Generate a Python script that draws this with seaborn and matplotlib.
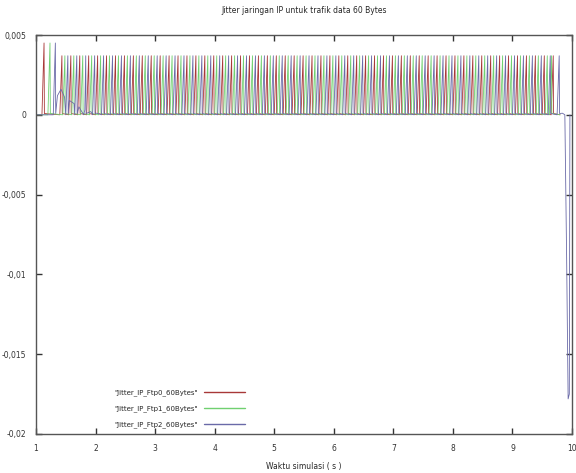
import matplotlib
matplotlib.use("Agg")
import matplotlib.pyplot as plt
import matplotlib.ticker as mticker
import numpy as np
import pandas as pd
import seaborn as sns

# ---- data ----
series_names = ['"Jitter_IP_Ftp0_60Bytes"', '"Jitter_IP_Ftp1_60Bytes"', '"Jitter_IP_Ftp2_60Bytes"']

# spike onset times (s) for each series
ftp0_spikes = [1.10, 1.40, 1.55, 1.70, 1.85, 2.00, 2.15, 2.30, 2.45, 2.60, 2.75, 2.90, 3.05, 3.20,
               3.35, 3.50, 3.65, 3.80, 3.95, 4.10, 4.25, 4.40, 4.55, 4.70, 4.85, 5.00, 5.15, 5.30,
               5.45, 5.60, 5.75, 5.90, 6.05, 6.20, 6.35, 6.50, 6.65, 6.80, 6.95, 7.10, 7.25, 7.40,
               7.55, 7.70, 7.85, 8.00, 8.15, 8.30, 8.45, 8.60, 8.75, 8.90, 9.05, 9.20, 9.35, 9.50, 9.65]
ftp1_spikes = [1.20, 1.45, 1.60, 1.75, 1.90, 2.05, 2.20, 2.35, 2.50, 2.65, 2.80, 2.95, 3.10, 3.25,
               3.40, 3.55, 3.70, 3.85, 4.00, 4.15, 4.30, 4.45, 4.60, 4.75, 4.90, 5.05, 5.20, 5.35,
               5.50, 5.65, 5.80, 5.95, 6.10, 6.25, 6.40, 6.55, 6.70, 6.85, 7.00, 7.15, 7.30, 7.45,
               7.60, 7.75, 7.90, 8.05, 8.20, 8.35, 8.50, 8.65, 8.80, 8.95, 9.10, 9.25, 9.40, 9.55, 9.62]
ftp2_spikes = [1.29, 1.50, 1.65, 1.80, 1.95, 2.10, 2.25, 2.40, 2.55, 2.70, 2.85, 3.00, 3.15, 3.30,
               3.45, 3.60, 3.75, 3.90, 4.05, 4.20, 4.35, 4.50, 4.65, 4.80, 4.95, 5.10, 5.25, 5.40,
               5.55, 5.70, 5.85, 6.00, 6.15, 6.30, 6.45, 6.60, 6.75, 6.90, 7.05, 7.20, 7.35, 7.50,
               7.65, 7.80, 7.95, 8.10, 8.25, 8.40, 8.55, 8.70, 8.85, 9.00, 9.15, 9.30, 9.45, 9.60, 9.75]

# spike peak values (first spike of each series is taller)
ftp0_peaks = [0.0045] + [0.0037] * 56
ftp1_peaks = [0.0045] + [0.0037] * 56
ftp2_peaks = [0.0045] + [0.0037] * 56

# early decaying jitter of Ftp2 and the final drop
ftp2_early_t = [1.36, 1.42, 1.48, 1.56, 1.64, 1.72, 1.82, 1.92, 2.02]
ftp2_early_v = [0.0012, 0.0016, 0.0011, 0.0009, 0.0007, 0.0005, 0.0003, 0.0002, 0.0001]
ftp2_end_t = [9.84, 9.88, 9.91, 9.935, 9.955, 9.965]
ftp2_end_v = [0.0001, 0.0, -0.009, -0.0178, -0.0175, 0.0]

rise = 0.035
fall = 0.006


def build(spikes, peaks, extra_t=(), extra_v=()):
    t, v = [1.0], [0.0]
    for s, p in zip(spikes, peaks):
        t += [s, s + rise, s + rise + fall]
        v += [0.0, p, 0.00008]
    t += list(extra_t)
    v += list(extra_v)
    order = np.argsort(t, kind="stable")
    return np.array(t)[order], np.array(v)[order]


t0, v0 = build(ftp0_spikes, ftp0_peaks, [9.80], [0.0])
t1, v1 = build(ftp1_spikes, ftp1_peaks, [9.80], [0.0])
t2, v2 = build(ftp2_spikes, ftp2_peaks, ftp2_early_t + ftp2_end_t, ftp2_early_v + ftp2_end_v)

df = pd.concat([
    pd.DataFrame({"t": t0, "v": v0, "s": series_names[0]}),
    pd.DataFrame({"t": t1, "v": v1, "s": series_names[1]}),
    pd.DataFrame({"t": t2, "v": v2, "s": series_names[2]}),
], ignore_index=True)

colors = ["#a83838", "#70d070", "#6a6aa8"]

sns.set_style("ticks")
plt.rcParams['font.family'] = ['Liberation Sans Narrow', 'DejaVu Sans']

fig = plt.figure(figsize=(5.76, 4.73), dpi=100)
ax = fig.add_axes([36 / 576, 1 - 434 / 473, (572 - 36) / 576, (434 - 35) / 473])

sns.lineplot(data=df, x="t", y="v", hue="s", palette=colors, estimator=None,
             sort=False, linewidth=0.6, ax=ax, legend=False)
for name, c in zip(series_names, colors):
    ax.plot([], [], color=c, linewidth=1.0, label=name)

ax.set_xlim(1, 10)
ax.set_ylim(-0.02, 0.005)
ax.set_xticks(range(1, 11))
ax.set_yticks([0.005, 0, -0.005, -0.01, -0.015, -0.02])
ax.yaxis.set_major_formatter(mticker.FuncFormatter(
    lambda y, p: "0" if abs(y) < 1e-12 else ("%g" % y).replace(".", ",")))
ax.tick_params(direction="in", length=4, width=1, top=True, right=True,
               labelsize=5.5, pad=7, colors="#333333")
for sp in ax.spines.values():
    sp.set_visible(True)
    sp.set_linewidth(1.0)
    sp.set_color("#555555")

ax.set_xlabel("Waktu simulasi ( s )", fontsize=5.5, labelpad=7)
ax.set_ylabel("")
ax.set_title("Jitter jaringan IP untuk trafik data 60 Bytes", fontsize=5.5, pad=16)

ax.legend(loc="lower left", bbox_to_anchor=(0.135, 0.0), frameon=False, markerfirst=False,
          fontsize=5, handlelength=6, labelspacing=1.3)

fig.savefig("out.png", dpi=100)
